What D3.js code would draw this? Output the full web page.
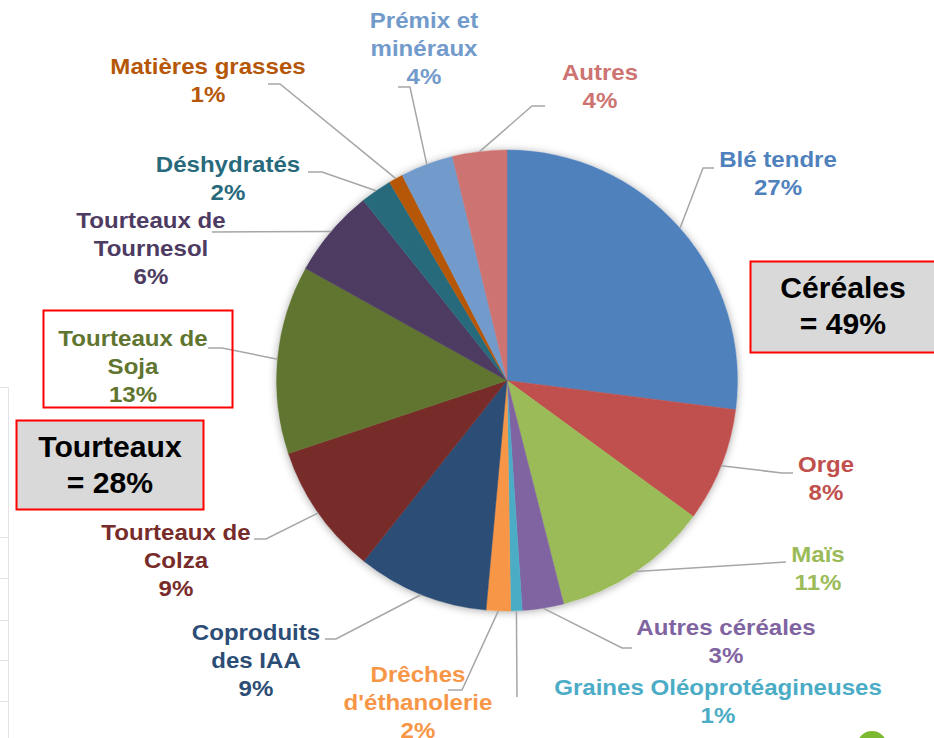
<!DOCTYPE html>
<html><head><meta charset="utf-8">
<script src="https://cdn.jsdelivr.net/npm/d3@7"></script>
<style>
html,body{margin:0;padding:0;background:#fff;}
text{font-family:"Liberation Sans",Arial,sans-serif;font-weight:bold;}
</style></head>
<body><svg id="c" width="934" height="738"></svg>
<script>
// ---- data ----
const categories = ["Blé tendre","Orge","Maïs","Autres céréales","Graines Oléoprotéagineuses","Drêches d'éthanolerie","Coproduits des IAA","Tourteaux de Colza","Tourteaux de Soja","Tourteaux de Tournesol","Déshydratés","Matières grasses","Prémix et minéraux","Autres"];
const values = [27,8,11,2.9,0.8,1.7,9.2,9.2,13.2,6.2,2.2,1,3.7,3.8];
const labelLines = [["Blé tendre"],["Orge"],["Maïs"],["Autres céréales"],["Graines Oléoprotéagineuses"],["Drêches","d'éthanolerie"],["Coproduits","des IAA"],["Tourteaux de","Colza"],["Tourteaux de","Soja"],["Tourteaux de","Tournesol"],["Déshydratés"],["Matières grasses"],["Prémix et","minéraux"],["Autres"]];
const colors = ["#4F81BD","#C0504D","#9BBB59","#8064A2","#4BACC6","#F79646","#2C4D75","#772C2A","#5F7530","#4D3B62","#276A7C","#B65708","#729ACA","#CD7371"];
const groupLabels = [["Céréales","= 49%"],["Tourteaux","= 28%"]];

// ---- layout (label anchors & leader elbows) ----
const labelPos = [
  {x:778,y:167,elbow:[[703,168],[714,168]]},
  {x:826,y:472,elbow:[[782,473],[793,473]]},
  {x:818,y:562,elbow:[[786,562]]},
  {x:726,y:635,elbow:[[622,648],[632,648]]},
  {x:718,y:695,elbow:[[517,697]]},
  {x:418,y:682,elbow:[[462,690],[448,690]]},
  {x:256,y:640,elbow:[[336,639],[325,639]]},
  {x:176,y:540,elbow:[[266,539],[254,539]]},
  {x:133,y:346,elbow:[[222,348],[208,348]]},
  {x:151,y:228,elbow:[[212,232]]},
  {x:228,y:172,elbow:[[322,172],[308,172]]},
  {x:208,y:74,elbow:[[280,84],[268,84]]},
  {x:424,y:28,elbow:[[410,87],[398,87]]},
  {x:600,y:80,elbow:[[532,106],[545,106]]}
];

const svg = d3.select("#c");
const cx = 507, cy = 380.5, R = 230.5;

// faint background frame at left
const fr = svg.append("g").attr("stroke","#e3e3e3").attr("stroke-width",1).attr("fill","none");
fr.append("path").attr("d","M0,387.5H8.5V738");
[537,578,620,660,701].forEach(y=>fr.append("line").attr("x1",0).attr("x2",8.5).attr("y1",y+0.5).attr("y2",y+0.5));

// green blob bottom right
svg.append("circle").attr("cx",872).attr("cy",746).attr("r",15).attr("fill","#7DB92E");

const defs = svg.append("defs");
const f = defs.append("filter").attr("id","sh").attr("x","-20%").attr("y","-20%").attr("width","140%").attr("height","140%");
f.append("feDropShadow").attr("dx",0).attr("dy",1).attr("stdDeviation",4).attr("flood-color","#000").attr("flood-opacity",0.35);

const pie = d3.pie().sort(null).value(d=>d)(values);
const arc = d3.arc().innerRadius(0).outerRadius(R);
const edge = d3.arc().innerRadius(R).outerRadius(R);

const g = svg.append("g").attr("transform",`translate(${cx},${cy})`);
g.append("circle").attr("r",R).attr("fill","#fff").attr("filter","url(#sh)");
g.selectAll("path.s").data(pie).join("path").attr("class","s")
  .attr("d",arc).attr("fill",(d,i)=>colors[i]).attr("stroke",(d,i)=>colors[i]).attr("stroke-width",0.5);

// leader lines
const lines = svg.append("g").attr("fill","none").attr("stroke","#A6A6A6").attr("stroke-width",1.5);
pie.forEach((d,i)=>{
  const c = edge.centroid(d);
  const pts = [[cx+c[0],cy+c[1]]].concat(labelPos[i].elbow);
  lines.append("path").attr("d",d3.line()(pts));
});

// labels
const lab = svg.append("g");
pie.forEach((d,i)=>{
  const p = labelPos[i];
  const t = lab.append("text").attr("transform",`translate(${p.x},${p.y}) scale(1.12,1)`)
    .attr("text-anchor","middle").attr("font-size",21.5).attr("fill",colors[i]);
  const ls = labelLines[i].concat([Math.round(values[i])+"%"]);
  ls.forEach((s,k)=>t.append("tspan").attr("x",0).attr("y",k*28).text(s));
});

// red box around Soja label
svg.append("rect").attr("x",43.5).attr("y",310.5).attr("width",189).attr("height",97).attr("fill","none").attr("stroke","#FF0000").attr("stroke-width",2);

// group boxes
const boxes = [{x:750.5,y:261.5,w:200,h:91,tx:843,ty:298},{x:16.5,y:420.5,w:187,h:89,tx:110,ty:457}];
boxes.forEach((b,i)=>{
  svg.append("rect").attr("x",b.x).attr("y",b.y).attr("width",b.w).attr("height",b.h).attr("fill","#D9D9D9").attr("stroke","#FF0000").attr("stroke-width",2);
  const t = svg.append("text").attr("transform",`translate(${b.tx},${b.ty}) scale(1.04,1)`).attr("text-anchor","middle").attr("font-size",29).attr("fill","#000");
  groupLabels[i].forEach((s,k)=>t.append("tspan").attr("x",0).attr("y",k*36).text(s));
});
</script></body></html>
